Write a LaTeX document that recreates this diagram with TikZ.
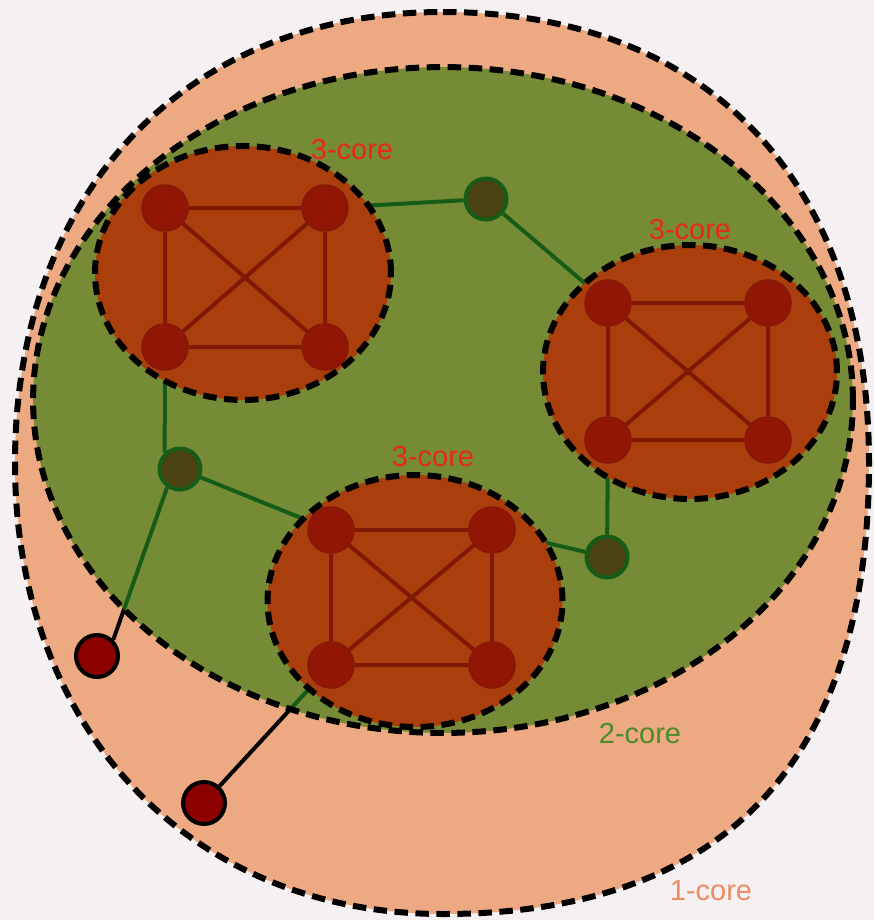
\documentclass[tikz,border=0pt]{standalone}
\usepackage{fontspec}
\setmainfont{Liberation Sans}

\definecolor{paper}{RGB}{245,240,242}
\definecolor{onefill}{RGB}{237,170,130}
\definecolor{twofill}{RGB}{118,139,54}
\definecolor{threefill}{RGB}{170,62,12}
\definecolor{threenodefill}{RGB}{146,22,6}
\definecolor{threeedge}{RGB}{128,24,6}
\definecolor{twonodefill}{RGB}{74,66,16}
\definecolor{twoedge}{RGB}{22,92,22}
\definecolor{onenodefill}{RGB}{140,0,0}
\definecolor{threetext}{RGB}{232,40,20}
\definecolor{twotext}{RGB}{75,140,40}
\definecolor{onetext}{RGB}{236,140,100}

\pgfdeclarelayer{onecore}
\pgfdeclarelayer{twocore}
\pgfdeclarelayer{threecore}
\pgfsetlayers{onecore,twocore,threecore,main}

\tikzset{
    region/.style={draw=black, line width=0.12cm, dash pattern=on 0.27cm off 0.15cm},
    threenode/.style={circle, fill=threenodefill, draw=threeedge, line width=0.02cm, minimum size=0.93cm, inner sep=0pt},
    twonode/.style={circle, fill=twonodefill, draw=twoedge, line width=0.08cm, minimum size=0.82cm, inner sep=0pt},
    onenode/.style={circle, fill=onenodefill, draw=black, line width=0.08cm, minimum size=0.84cm, inner sep=0pt},
    threelink/.style={draw=threeedge, line width=0.08cm},
    twolink/.style={draw=twoedge, line width=0.08cm},
    onelink/.style={draw=black, line width=0.08cm},
    corelabel/.style={font=\fontsize{16.5}{18}\selectfont, inner sep=0pt}
}

\begin{document}
\begin{tikzpicture}[x=0.02cm, y=-0.02cm]
    \useasboundingbox (0,0) rectangle (874,920);

    % Sommets du 3-core (haut gauche, droite, bas)
    \node[threenode] (a1) at (165,208) {};
    \node[threenode] (a2) at (325,208) {};
    \node[threenode] (a3) at (165,347) {};
    \node[threenode] (a4) at (325,347) {};
    \node[threenode] (b1) at (608,303) {};
    \node[threenode] (b2) at (768,303) {};
    \node[threenode] (b3) at (608,440) {};
    \node[threenode] (b4) at (768,440) {};
    \node[threenode] (c1) at (331,530) {};
    \node[threenode] (c2) at (492,530) {};
    \node[threenode] (c3) at (331,665) {};
    \node[threenode] (c4) at (492,665) {};

    % Sommets du 2-core et du 1-core
    \node[twonode] (g1) at (486,199) {};
    \node[twonode] (g2) at (180,469) {};
    \node[twonode] (g3) at (607,557) {};
    \node[onenode] (r1) at (97,656) {};
    \node[onenode] (r2) at (204,803) {};

    % Etiquettes
    \node[corelabel, text=threetext] (lbla) at (352,150) {3-core};
    \node[corelabel, text=threetext] (lblb) at (690,230) {3-core};
    \node[corelabel, text=threetext] (lblc) at (433,457) {3-core};
    \node[corelabel, text=twotext] (lbltwo) at (640,734) {2-core};
    \node[corelabel, text=onetext] (lblone) at (711,891) {1-core};

    % 1-core
    \begin{pgfonlayer}{onecore}
        \fill[paper] (0,0) rectangle (874,920);
        \draw[region, fill=onefill] (443,12)
            .. controls (709,12) and (869,183) .. (869,463)
            .. controls (869,760) and (726,914) .. (443,914)
            .. controls (190,914) and (15,729) .. (15,463)
            .. controls (15,192) and (186,12) .. (443,12) -- cycle;
        \draw[onelink] (g2.235) -- (r1.45);
        \draw[onelink] (c3) -- (r2);
    \end{pgfonlayer}

    % 2-core
    \begin{pgfonlayer}{twocore}
        \fill[twofill] (443,400) ellipse [x radius=8.2cm, y radius=6.66cm];
        \draw[twolink] (a2) -- (g1);
        \draw[twolink] (g1) -- (b1);
        \draw[twolink] (a3) -- (g2.133);
        \draw[twolink] (g2) -- (c1);
        \draw[twolink] (c2) -- (g3);
        \draw[twolink] (g3) -- (b3);
        \begin{scope}
            \clip (443,400) ellipse [x radius=8.2cm, y radius=6.66cm];
            \draw[twolink] (g2.235) -- (r1.45);
            \draw[twolink] (c3) -- (r2);
        \end{scope}
        \draw[region] (443,400) ellipse [x radius=8.2cm, y radius=6.66cm];
    \end{pgfonlayer}

    % 3-core
    \begin{pgfonlayer}{threecore}
        \draw[region, fill=threefill] (243,273) ellipse [x radius=2.96cm, y radius=2.54cm];
        \draw[region, fill=threefill] (690,372) ellipse [x radius=2.94cm, y radius=2.54cm];
        \draw[region, fill=threefill] (415,601) ellipse [x radius=2.95cm, y radius=2.52cm];
        \draw[threelink] (a1) -- (a2) -- (a4) -- (a3) -- (a1) -- (a4);
        \draw[threelink] (a2) -- (a3);
        \draw[threelink] (b1) -- (b2) -- (b4) -- (b3) -- (b1) -- (b4);
        \draw[threelink] (b2) -- (b3);
        \draw[threelink] (c1) -- (c2) -- (c4) -- (c3) -- (c1) -- (c4);
        \draw[threelink] (c2) -- (c3);
    \end{pgfonlayer}
\end{tikzpicture}
\end{document}
